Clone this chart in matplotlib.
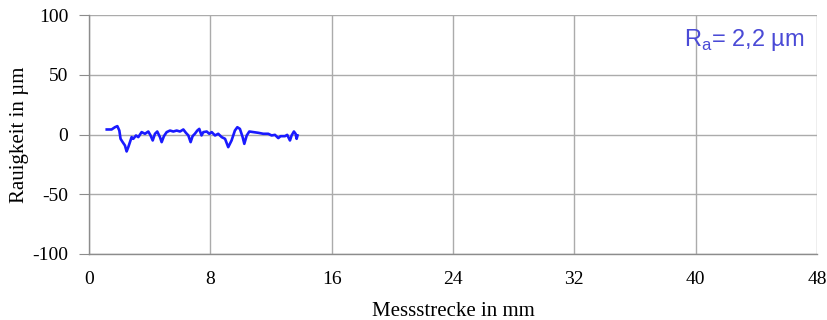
import matplotlib
matplotlib.use("Agg")
import matplotlib.pyplot as plt

plt.rcParams["axes.unicode_minus"] = False

# Measured roughness profile
dist_mm = [1.17, 1.49, 1.71, 1.87, 2.0, 2.08, 2.22, 2.37, 2.48, 2.59, 2.70, 2.81, 2.92,
           3.10, 3.25, 3.47, 3.69, 3.91, 4.06, 4.20, 4.35, 4.50, 4.68, 4.79, 4.94, 5.12,
           5.34, 5.56, 5.78, 6.00, 6.22, 6.39, 6.55, 6.70, 6.83, 6.98, 7.14, 7.27, 7.42,
           7.54, 7.76, 7.93, 8.09, 8.31, 8.52, 8.75, 8.97, 9.18, 9.40, 9.62, 9.78, 9.95,
           10.13, 10.24, 10.40, 10.57, 10.84, 11.17, 11.49, 11.82, 12.04, 12.26, 12.48,
           12.63, 12.92, 13.07, 13.25, 13.36, 13.51, 13.62, 13.69, 13.75]
rough_um = [4.2, 4.2, 6.1, 7.0, 3.3, -3.6, -6.4, -9.2, -14.2, -10.6, -6.4, -2.2, -3.6,
            -0.8, -2.2, 2.0, 0.6, 2.5, -0.8, -5.0, 0.6, 2.5, -2.2, -6.4, -1.4, 2.0,
            3.3, 2.5, 3.3, 2.5, 4.2, 1.4, -0.8, -6.4, -1.4, 0.6, 3.3, 4.7, -0.8,
            2.0, 2.5, 0.6, 2.0, -0.8, 0.6, -2.2, -3.6, -10.6, -5.0, 3.3, 6.1, 4.7,
            -2.2, -7.8, -0.8, 2.5, 2.0, 1.4, 0.6, 0.6, -0.8, -0.3, -3.0,
            -1.4, -1.4, -0.3, -5.0, -0.8, 2.5, 0.6, -3.6, -0.8]

x_ticks = [0, 8, 16, 24, 32, 40, 48]
y_ticks = [-100, -50, 0, 50, 100]
ra_label = "R$_\\mathregular{a}$= 2,2 µm"

fig = plt.figure(figsize=(8.28, 3.2), dpi=100)
ax = fig.add_axes([89/828, 66/320, 728/828, 239/320])

grid_c = "#ababab"
ax.plot(dist_mm, rough_um, color="#1a1aff", lw=1.9, zorder=3)

ax.set_xlim(0, 48)
ax.set_ylim(-100, 100)
ax.set_xticks(x_ticks)
ax.set_yticks(y_ticks)
ax.grid(True, color=grid_c, lw=1.0)
ax.set_axisbelow(True)

for s in ["top", "right"]:
    ax.spines[s].set_visible(False)
for s in ["left", "bottom"]:
    ax.spines[s].set_color("#8c8c8c")
    ax.spines[s].set_linewidth(1.0)

ax.tick_params(axis="y", length=7, color="#8c8c8c", pad=8)
ax.tick_params(axis="x", length=0, pad=12)

serif = "Liberation Serif"
for lab in ax.get_xticklabels() + ax.get_yticklabels():
    lab.set_fontfamily(serif)
    lab.set_fontsize(14)

ax.set_xlabel("Messstrecke in mm", fontfamily=serif, fontsize=15, labelpad=10)
ax.set_ylabel("Rauigkeit in µm", fontfamily=serif, fontsize=15, labelpad=2)

ax.text(0.983, 0.895, ra_label, transform=ax.transAxes, ha="right", va="center",
        fontfamily="Liberation Sans", fontsize=17, color="#4a4ad6")

fig.savefig("out.png", dpi=100)
